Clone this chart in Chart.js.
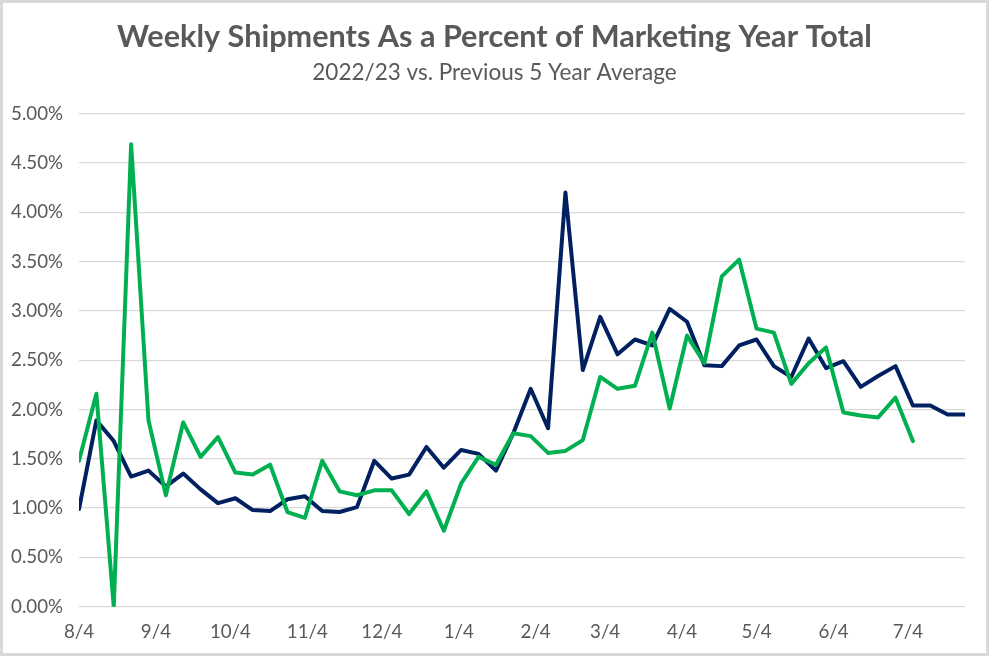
<!DOCTYPE html>
<html>
<head>
<meta charset="utf-8">
<script src="https://cdn.jsdelivr.net/npm/chart.js@4.4.1/dist/chart.umd.min.js"></script>
<style>
  html, body { margin: 0; padding: 0; background: #ffffff; }
  #wrap { width: 989px; height: 656px; position: relative; }
</style>
</head>
<body>
<div id="wrap"><canvas id="c" width="989" height="656"></canvas></div>
<script>
// Week-ending dates of the marketing year (categories)
const weekDates = [
  '2022-08-04','2022-08-11','2022-08-18','2022-08-25',
  '2022-09-01','2022-09-08','2022-09-15','2022-09-22','2022-09-29',
  '2022-10-06','2022-10-13','2022-10-20','2022-10-27',
  '2022-11-03','2022-11-10','2022-11-17','2022-11-24',
  '2022-12-01','2022-12-08','2022-12-15','2022-12-22','2022-12-29',
  '2023-01-05','2023-01-12','2023-01-19','2023-01-26',
  '2023-02-02','2023-02-09','2023-02-16','2023-02-23',
  '2023-03-02','2023-03-09','2023-03-16','2023-03-23','2023-03-30',
  '2023-04-06','2023-04-13','2023-04-20','2023-04-27',
  '2023-05-04','2023-05-11','2023-05-18','2023-05-25',
  '2023-06-01','2023-06-08','2023-06-15','2023-06-22','2023-06-29',
  '2023-07-06','2023-07-13','2023-07-20','2023-07-27'
];

// 2022/23 weekly shipments, % of marketing-year total (green)
const current2223 = [
  1.48, 2.16, 0.00, 4.69, 1.89, 1.13, 1.87, 1.52, 1.72,
  1.36, 1.34, 1.44, 0.96, 0.90, 1.48, 1.17, 1.13,
  1.18, 1.18, 0.94, 1.17, 0.77, 1.25, 1.52, 1.44,
  1.76, 1.73, 1.56, 1.58, 1.69, 2.33, 2.21, 2.24,
  2.78, 2.01, 2.75, 2.47, 3.35, 3.52, 2.82, 2.78,
  2.26, 2.47, 2.63, 1.97, 1.94, 1.92, 2.12, 1.68
];

// Previous 5-year average (navy)
const fiveYearAvg = [
  0.99, 1.89, 1.68, 1.32, 1.38, 1.22, 1.35, 1.19, 1.05,
  1.10, 0.98, 0.97, 1.09, 1.12, 0.97, 0.96, 1.01,
  1.48, 1.30, 1.34, 1.62, 1.41, 1.59, 1.55, 1.38,
  1.76, 2.21, 1.81, 4.20, 2.40, 2.94, 2.56, 2.71,
  2.65, 3.02, 2.89, 2.45, 2.44, 2.65, 2.71, 2.44,
  2.33, 2.72, 2.42, 2.49, 2.23, 2.34, 2.44, 2.04,
  2.04, 1.95, 1.95
];

// X-axis tick dates and Y-axis tick values
const xTickDates = [
  '2022-08-04','2022-09-04','2022-10-04','2022-11-04','2022-12-04','2023-01-04',
  '2023-02-04','2023-03-04','2023-04-04','2023-05-04','2023-06-04','2023-07-04'
];
const yTickValues = [0, 0.5, 1, 1.5, 2, 2.5, 3, 3.5, 4, 4.5, 5];

const DAY = 86400000;
const t0 = Date.parse(weekDates[0]);
const dayOf = s => Math.round((Date.parse(s) - t0) / DAY);
const xMax = dayOf(weekDates[weekDates.length - 1]);
const fmtDate = s => { const d = new Date(Date.parse(s)); return (d.getUTCMonth() + 1) + '/' + d.getUTCDate(); };
const tickLabelByDay = {};
xTickDates.forEach(s => { tickLabelByDay[dayOf(s)] = fmtDate(s); });

const toPts = arr => arr.map((v, i) => ({ x: dayOf(weekDates[i]), y: v }));

const FONT = "Lato, Carlito, Calibri, 'Open Sans', sans-serif";
const GREY = '#595959';

const frame = {
  id: 'frame',
  beforeDraw(chart) {
    const ctx = chart.ctx;
    ctx.save();
    ctx.fillStyle = '#ffffff';
    ctx.fillRect(0, 0, chart.width, chart.height);
    ctx.restore();
  },
  afterDraw(chart) {
    const ctx = chart.ctx;
    ctx.save();
    ctx.strokeStyle = '#D9D9D9';
    ctx.lineWidth = 3;
    ctx.strokeRect(1.5, 1.5, chart.width - 3, chart.height - 3);
    ctx.restore();
  }
};

new Chart(document.getElementById('c'), {
  type: 'line',
  data: {
    datasets: [
      {
        label: '2022/23',
        data: toPts(current2223),
        borderColor: '#00B050',
        backgroundColor: '#00B050',
        borderWidth: 4,
        pointRadius: 0,
        tension: 0,
        borderJoinStyle: 'round',
        borderCapStyle: 'round'
      },
      {
        label: 'Previous 5 Year Average',
        data: toPts(fiveYearAvg),
        borderColor: '#002060',
        backgroundColor: '#002060',
        borderWidth: 4,
        pointRadius: 0,
        tension: 0,
        borderJoinStyle: 'round',
        borderCapStyle: 'round'
      }
    ]
  },
  options: {
    responsive: false,
    animation: false,
    devicePixelRatio: 1,
    layout: { padding: { left: 0, right: 0, top: 0, bottom: 0 } },
    plugins: {
      legend: { display: false },
      tooltip: { enabled: false },
      title: {
        display: true,
        text: 'Weekly Shipments As a Percent of Marketing Year Total',
        color: GREY,
        font: { family: FONT, size: 30.6, weight: 'bold', lineHeight: 1.2 },
        padding: { top: 19, bottom: 0 }
      },
      subtitle: {
        display: true,
        text: '2022/23 vs. Previous 5 Year Average',
        color: GREY,
        font: { family: FONT, size: 22.5, weight: 'normal', lineHeight: 1.2 },
        padding: { top: 3.5, bottom: 27.5 }
      }
    },
    scales: {
      x: {
        type: 'linear',
        min: 0,
        max: xMax,
        grid: { display: false, drawTicks: false },
        border: { display: false },
        afterBuildTicks(scale) {
          scale.ticks = xTickDates.map(s => ({ value: dayOf(s) }));
        },
        afterFit(scale) { scale.height = 49.3; },
        ticks: {
          color: GREY,
          font: { family: FONT, size: 18.7 },
          padding: 14,
          maxRotation: 0,
          autoSkip: false,
          callback: v => tickLabelByDay[v] || ''
        }
      },
      y: {
        min: 0,
        max: 5,
        afterBuildTicks(scale) {
          scale.ticks = yTickValues.map(v => ({ value: v }));
        },
        afterFit(scale) { scale.width = 79; },
        grid: { color: '#D9D9D9', lineWidth: 1.3, drawTicks: false },
        border: { display: false },
        ticks: {
          color: GREY,
          font: { family: FONT, size: 18.7 },
          padding: 16,
          callback: v => v.toFixed(2) + '%'
        }
      },
      ySpacer: {
        position: 'right',
        display: true,
        min: 0,
        max: 5,
        grid: { display: false, drawTicks: false },
        border: { display: false },
        ticks: { display: false },
        afterFit(scale) { scale.width = 24; }
      }
    }
  },
  plugins: [frame]
});
</script>
</body>
</html>
